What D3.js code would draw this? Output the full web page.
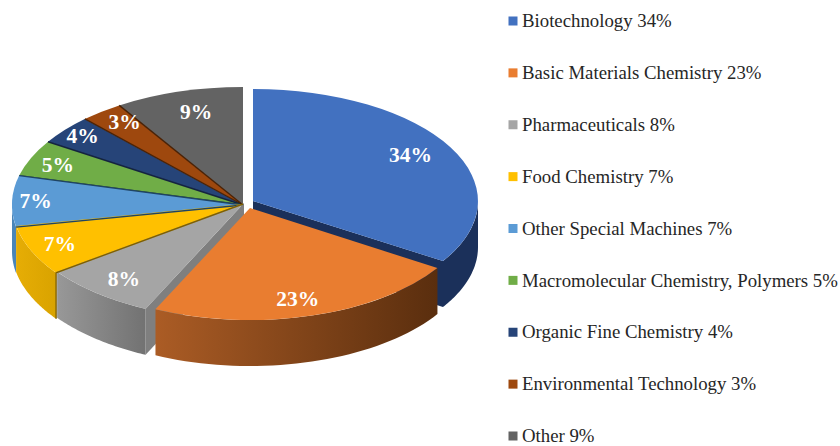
<!DOCTYPE html>
<html><head><meta charset="utf-8">
<script src="https://cdnjs.cloudflare.com/ajax/libs/d3/7.8.5/d3.min.js"></script>
<style>html,body{margin:0;padding:0;background:#fff}svg{display:block}</style>
</head><body><svg id="c" width="840" height="446"></svg>
<script>
const categories = ["Biotechnology","Basic Materials Chemistry","Pharmaceuticals","Food Chemistry","Other Special Machines","Macromolecular Chemistry, Polymers","Organic Fine Chemistry","Environmental Technology","Other"];
const shares = [34,23,8,7,7,5,4,3,9];
const topColors = ["#4271c0","#e97d30","#a5a5a5","#ffc000","#5b9bd5","#70ad47","#264478","#9e480e","#636363"];
const edgeColors = ["#1a2f59","#5f300f","#7b7b7b","#7f6000","#1f4464","#33521f","#14233f","#4a2206","#2e2e2e"];
const wallFrom = ["#1b305a","#ab5c25","#989898","#e6ad05","#4a85b8","#000","#000","#000","#000"];
const wallTo = ["#1b305a","#5a2e0e","#727272","#d9a300","#4a85b8","#000","#000","#000","#000"];
const labelDx = [-10,-5,5,-3,-11,-5,-9,2,8];
const labelDy = [-1,-1,-1,0,-1,-1,-6,-4,3];

const svg = d3.select("#c");
const depth = 46;
const base = {cx:243, cy:205, rx:231, ry:118};
const geom = i => i===0 ? {cx:253, cy:201, rx:225, ry:112}
              : i===1 ? {cx:250, cy:208, rx:222, ry:112}
              : i===2 ? {cx:244, cy:203, rx:231, ry:117}
              : i===3 ? {cx:243, cy:204, rx:231, ry:117}
              : base;
const pie = d3.pie().sort(null).startAngle(0).endAngle(2*Math.PI).value(d=>d);
const arcs = pie(shares);
const unit = d3.arc().innerRadius(0).outerRadius(1);
const pt = (g,a,dy=0) => [g.cx+g.rx*Math.sin(a), g.cy-g.ry*Math.cos(a)+dy];
const line = d3.line();
const defs = svg.append("defs");

function wall(i){
  const d=arcs[i], g=geom(i);
  const a0=Math.max(d.startAngle,Math.PI/2), a1=Math.min(d.endAngle,3*Math.PI/2);
  if(a1<=a0) return;
  const xs=d3.range(0,41).map(k=>a0+(a1-a0)*k/40);
  const top=xs.map(a=>pt(g,a)), bot=xs.map(a=>pt(g,a,depth)).reverse();
  const ext=d3.extent(top,p=>p[0]);
  const gr=defs.append("linearGradient").attr("id","w"+i).attr("gradientUnits","userSpaceOnUse")
    .attr("x1",ext[0]).attr("x2",ext[1]).attr("y1",0).attr("y2",0);
  gr.append("stop").attr("offset",0).attr("stop-color",wallFrom[i]);
  gr.append("stop").attr("offset",1).attr("stop-color",wallTo[i]);
  svg.append("path").attr("d",line(top.concat(bot))+"Z").attr("fill",`url(#w${i})`);
}
function cut(i,a,color){
  const g=geom(i), p=pt(g,a), c=[g.cx,g.cy];
  svg.append("path").attr("d",line([c,p,[p[0],p[1]+depth],[c[0],c[1]+depth]])+"Z").attr("fill",color);
}
function face(i){
  const g=geom(i);
  svg.append("path").attr("d",unit(arcs[i]))
    .attr("transform",`translate(${g.cx},${g.cy}) scale(${g.rx},${g.ry})`)
    .attr("fill",topColors[i]);
}
function seam(i,a,withWall){
  const g=geom(i), p=pt(g,a);
  const pts = withWall ? [[g.cx,g.cy],p,[p[0],p[1]+depth]] : [[g.cx,g.cy],p];
  svg.append("path").attr("d",line(pts))
    .attr("stroke",edgeColors[i]).attr("stroke-width",1.4).attr("fill","none");
}
// Back slices
[8,7,6,5].forEach(face);
[7,6,5].forEach(i=>seam(i,arcs[i].startAngle));
seam(7,arcs[7].endAngle);
// Left and front slices
wall(4); face(4); seam(4,arcs[4].endAngle);
wall(3); face(3); seam(4,arcs[4].startAngle);
wall(2); cut(2,arcs[2].startAngle,"#7f7f7f"); face(2); seam(3,arcs[3].startAngle,true);
cut(0,arcs[0].endAngle,"#1b305a");
wall(0); face(0);
wall(1); face(1);

// Percent labels
const k=0.85;
svg.append("g").selectAll("text").data(arcs).join("text")
  .attr("x",(d,i)=>{const g=geom(i),m=(d.startAngle+d.endAngle)/2;return g.cx+k*g.rx*Math.sin(m)+labelDx[i]})
  .attr("y",(d,i)=>{const g=geom(i),m=(d.startAngle+d.endAngle)/2;return g.cy-k*g.ry*Math.cos(m)+labelDy[i]})
  .attr("dy","0.35em").attr("text-anchor","middle")
  .attr("font-family","'Liberation Serif',serif").attr("font-weight","bold").attr("font-size",21.5)
  .attr("fill","#fff").text(d=>d.value+"%");

// Legend
const legendY = d3.scalePoint().domain(categories).range([21,436]);
const lg = svg.append("g").selectAll("g").data(categories).join("g")
  .attr("transform",d=>`translate(0,${legendY(d)})`);
lg.append("rect").attr("x",508.5).attr("y",-4.5).attr("width",9).attr("height",9).attr("fill",(d,i)=>topColors[i]);
lg.append("text").attr("x",522).attr("dy","0.33em")
  .attr("font-family","'Liberation Serif',serif").attr("font-size",18.8).attr("fill","#262626")
  .text((d,i)=>`${d} ${shares[i]}%`);
</script></body></html>
